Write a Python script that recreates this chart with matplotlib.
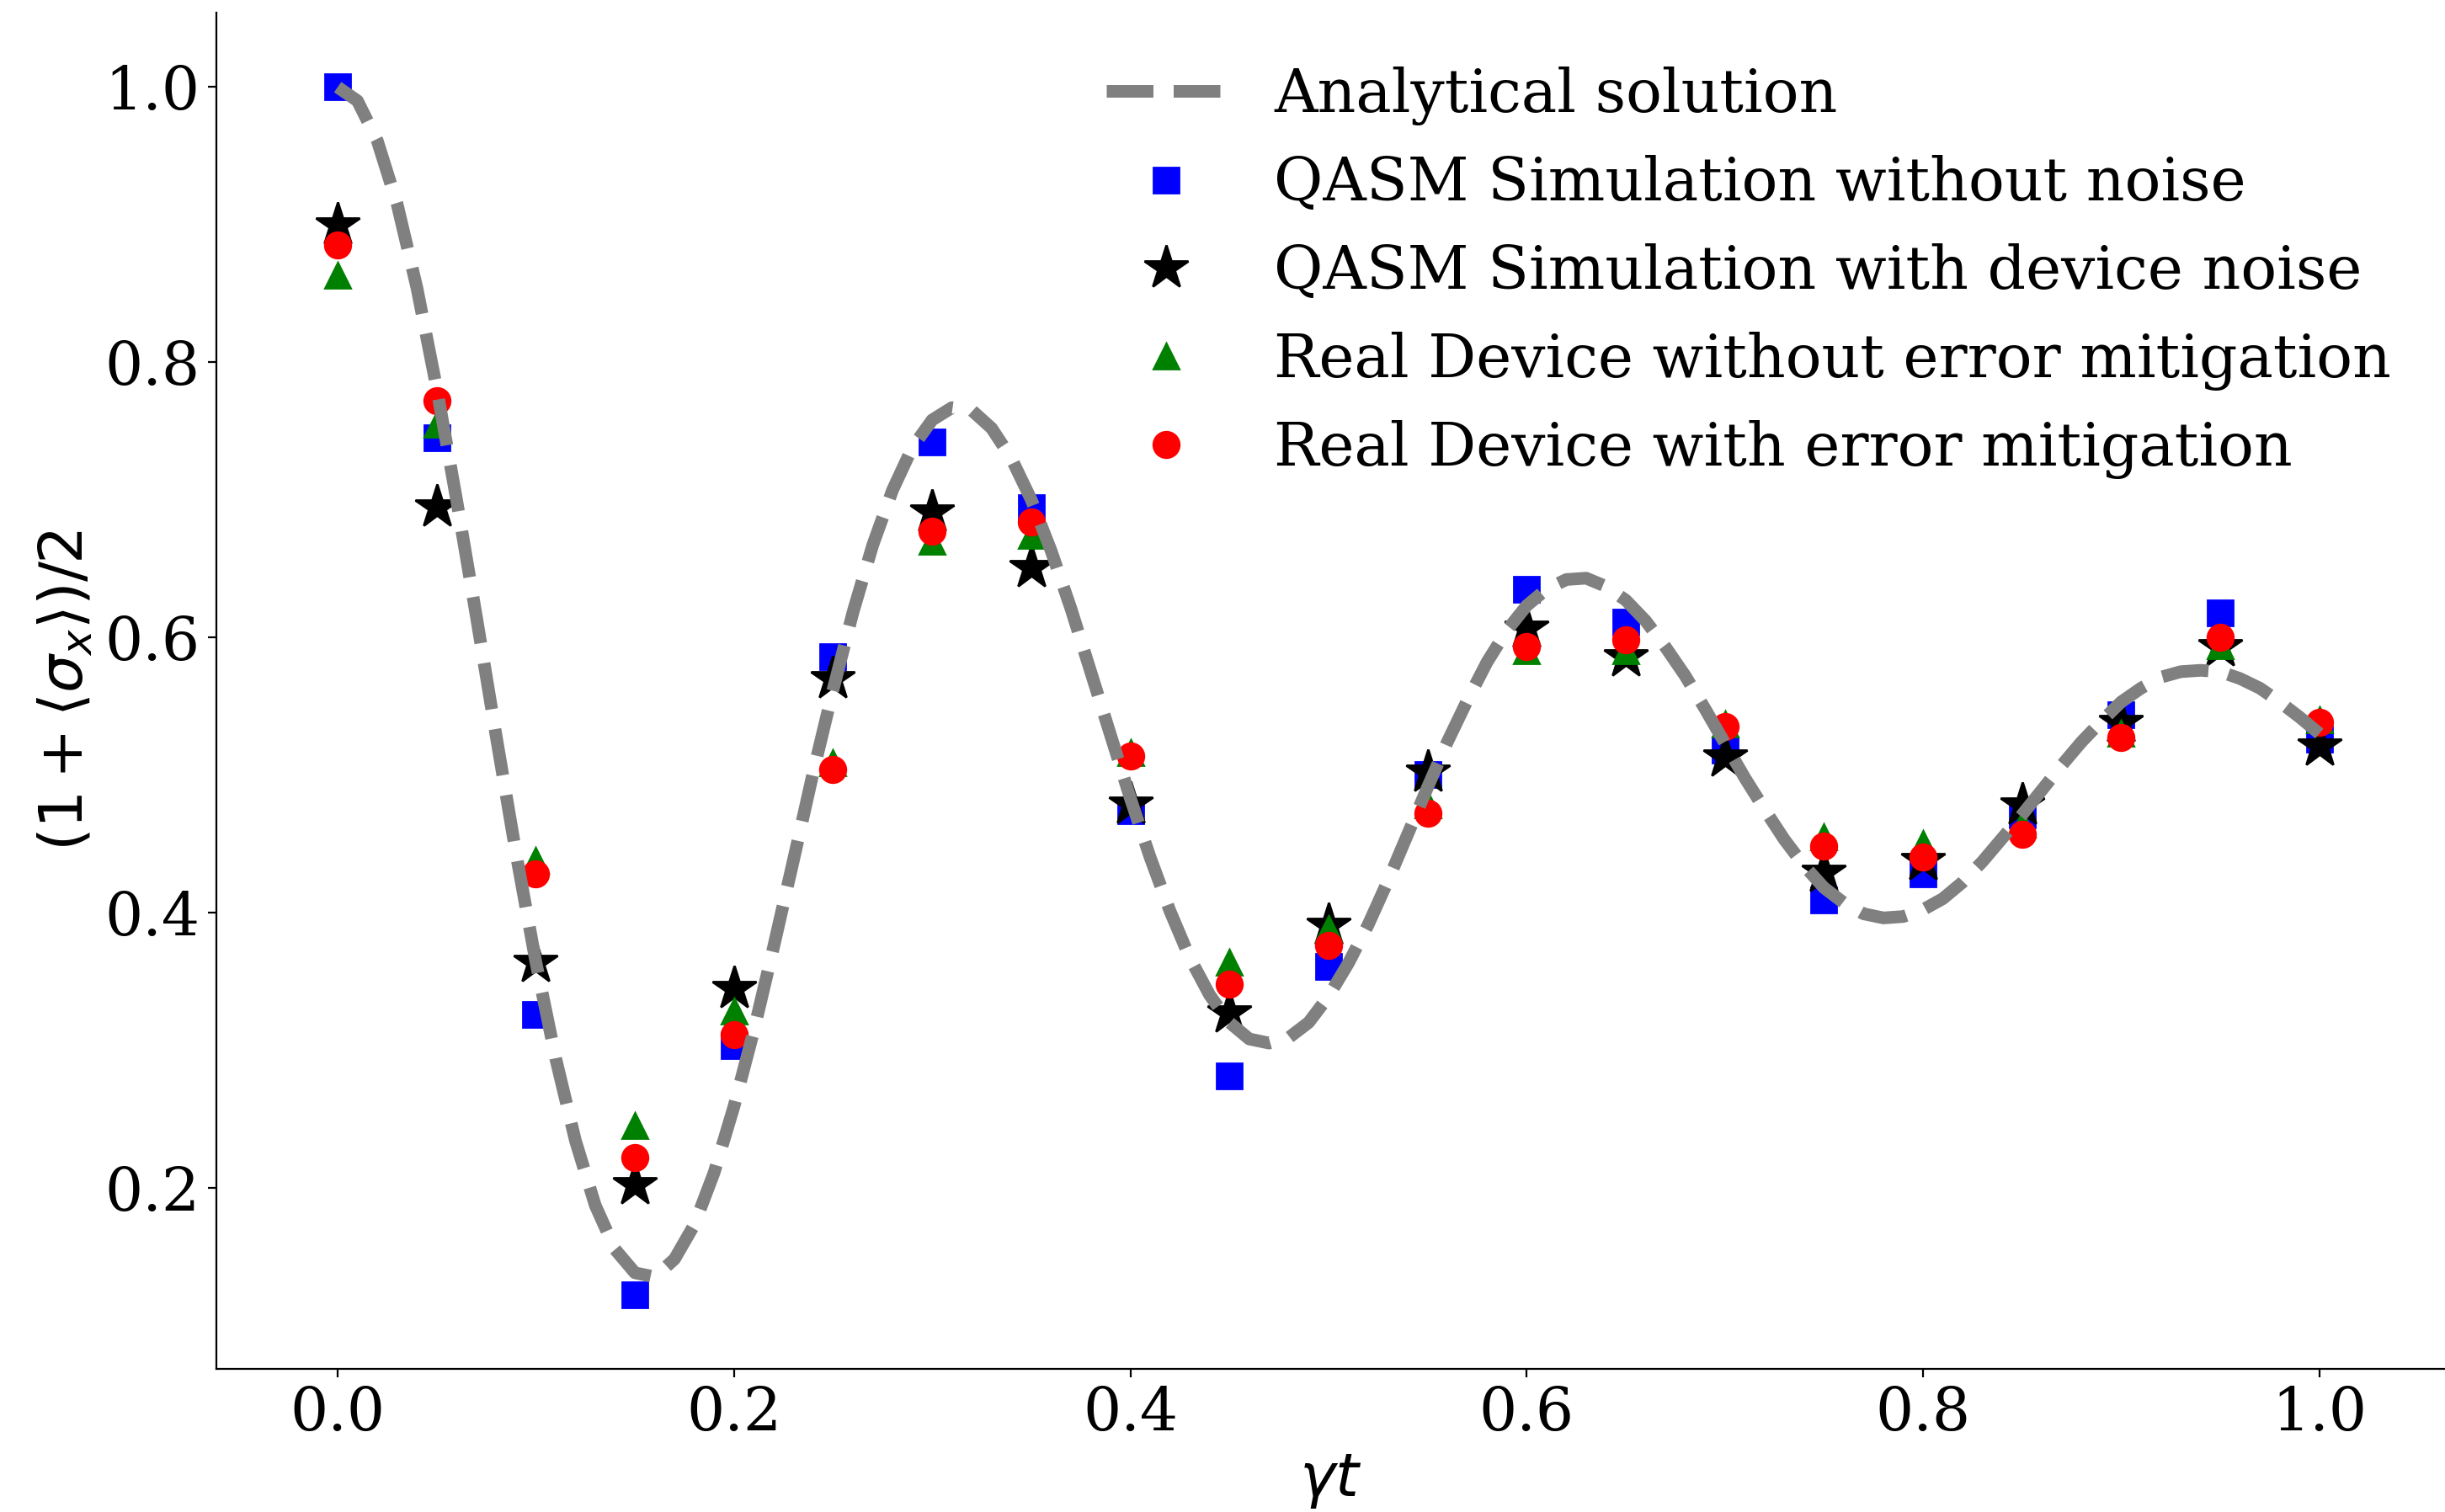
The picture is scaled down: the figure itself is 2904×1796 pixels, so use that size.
import matplotlib
matplotlib.use("Agg")
import matplotlib.pyplot as plt

plt.rcParams["font.family"] = "serif"
plt.rcParams["font.serif"] = ["DejaVu Serif"]
plt.rcParams["mathtext.fontset"] = "dejavusans"

# analytical curve, every 0.01 in gamma*t
t_curve = [i / 100 for i in range(101)]
y_curve = [
    1.000, 0.990, 0.961, 0.915, 0.854, 0.781, 0.700, 0.615, 0.528, 0.443,
    0.364, 0.294, 0.234, 0.187, 0.155, 0.138, 0.135, 0.148, 0.173, 0.211,
    0.259, 0.314, 0.375, 0.438, 0.502, 0.562, 0.618, 0.667, 0.707, 0.738,
    0.758, 0.767, 0.765, 0.752, 0.730, 0.700, 0.663, 0.621, 0.575, 0.529,
    0.483, 0.440, 0.401, 0.367, 0.340, 0.320, 0.308, 0.305, 0.309, 0.320,
    0.339, 0.363, 0.391, 0.423, 0.457, 0.491, 0.524, 0.554, 0.582, 0.605,
    0.623, 0.635, 0.642, 0.643, 0.637, 0.627, 0.612, 0.593, 0.572, 0.548,
    0.523, 0.498, 0.475, 0.453, 0.434, 0.418, 0.407, 0.399, 0.396, 0.397,
    0.402, 0.410, 0.422, 0.437, 0.454, 0.471, 0.489, 0.507, 0.524, 0.539,
    0.553, 0.563, 0.571, 0.575, 0.576, 0.575, 0.570, 0.563, 0.553, 0.542,
    0.530,
]

# measured points
t_pts = [i * 0.05 for i in range(21)]
qasm_clean = [1.000, 0.745, 0.326, 0.122, 0.303, 0.586, 0.742, 0.694, 0.474, 0.281,
              0.361, 0.500, 0.635, 0.611, 0.518, 0.409, 0.428, 0.471, 0.544, 0.618,
              0.526]
qasm_noise = [0.900, 0.695, 0.364, 0.202, 0.345, 0.570, 0.691, 0.651, 0.479, 0.327,
              0.391, 0.502, 0.607, 0.586, 0.513, 0.429, 0.438, 0.478, 0.538, 0.593,
              0.521]
real_raw = [0.863, 0.755, 0.438, 0.245, 0.328, 0.509, 0.670, 0.674, 0.516, 0.364,
            0.388, 0.478, 0.590, 0.590, 0.537, 0.455, 0.450, 0.464, 0.530, 0.594,
            0.540]
real_mitig = [0.885, 0.772, 0.428, 0.222, 0.311, 0.504, 0.677, 0.684, 0.514, 0.348,
              0.376, 0.472, 0.593, 0.598, 0.535, 0.448, 0.440, 0.457, 0.527, 0.600,
              0.538]

FS = 25.6

fig = plt.figure(figsize=(14.52, 8.98), dpi=200)
ax = fig.add_axes([0.0885, 0.0947, 0.9115, 0.8970])

ax.plot(t_curve, y_curve, "--", color="gray", linewidth=5.4, label="Analytical solution")
ax.plot(t_pts, qasm_clean, "s", color="blue", markersize=11, zorder=1,
        label="QASM Simulation without noise")
ax.plot(t_pts, qasm_noise, "*", color="black", markersize=19.5, zorder=1,
        label="QASM Simulation with device noise")
ax.plot(t_pts, real_raw, "^", color="green", markersize=11, zorder=1,
        label="Real Device without error mitigation")
ax.plot(t_pts, real_mitig, "o", color="red", markersize=11, zorder=1,
        label="Real Device with error mitigation")

ax.set_xlim(-0.0612, 1.0634)
ax.set_ylim(0.0682, 1.0542)
ax.set_xticks([0.0, 0.2, 0.4, 0.6, 0.8, 1.0])
ax.set_yticks([0.2, 0.4, 0.6, 0.8, 1.0])
ax.tick_params(labelsize=FS)
ax.spines["top"].set_visible(False)
ax.spines["right"].set_visible(False)

ax.set_xlabel(r"$\gamma t$", fontsize=FS)
ax.set_ylabel(r"$(1+\langle\sigma_x\rangle)/2$", fontsize=FS)
ax.legend(loc="upper right", frameon=False, fontsize=FS)

fig.savefig("out.png", dpi=200)
